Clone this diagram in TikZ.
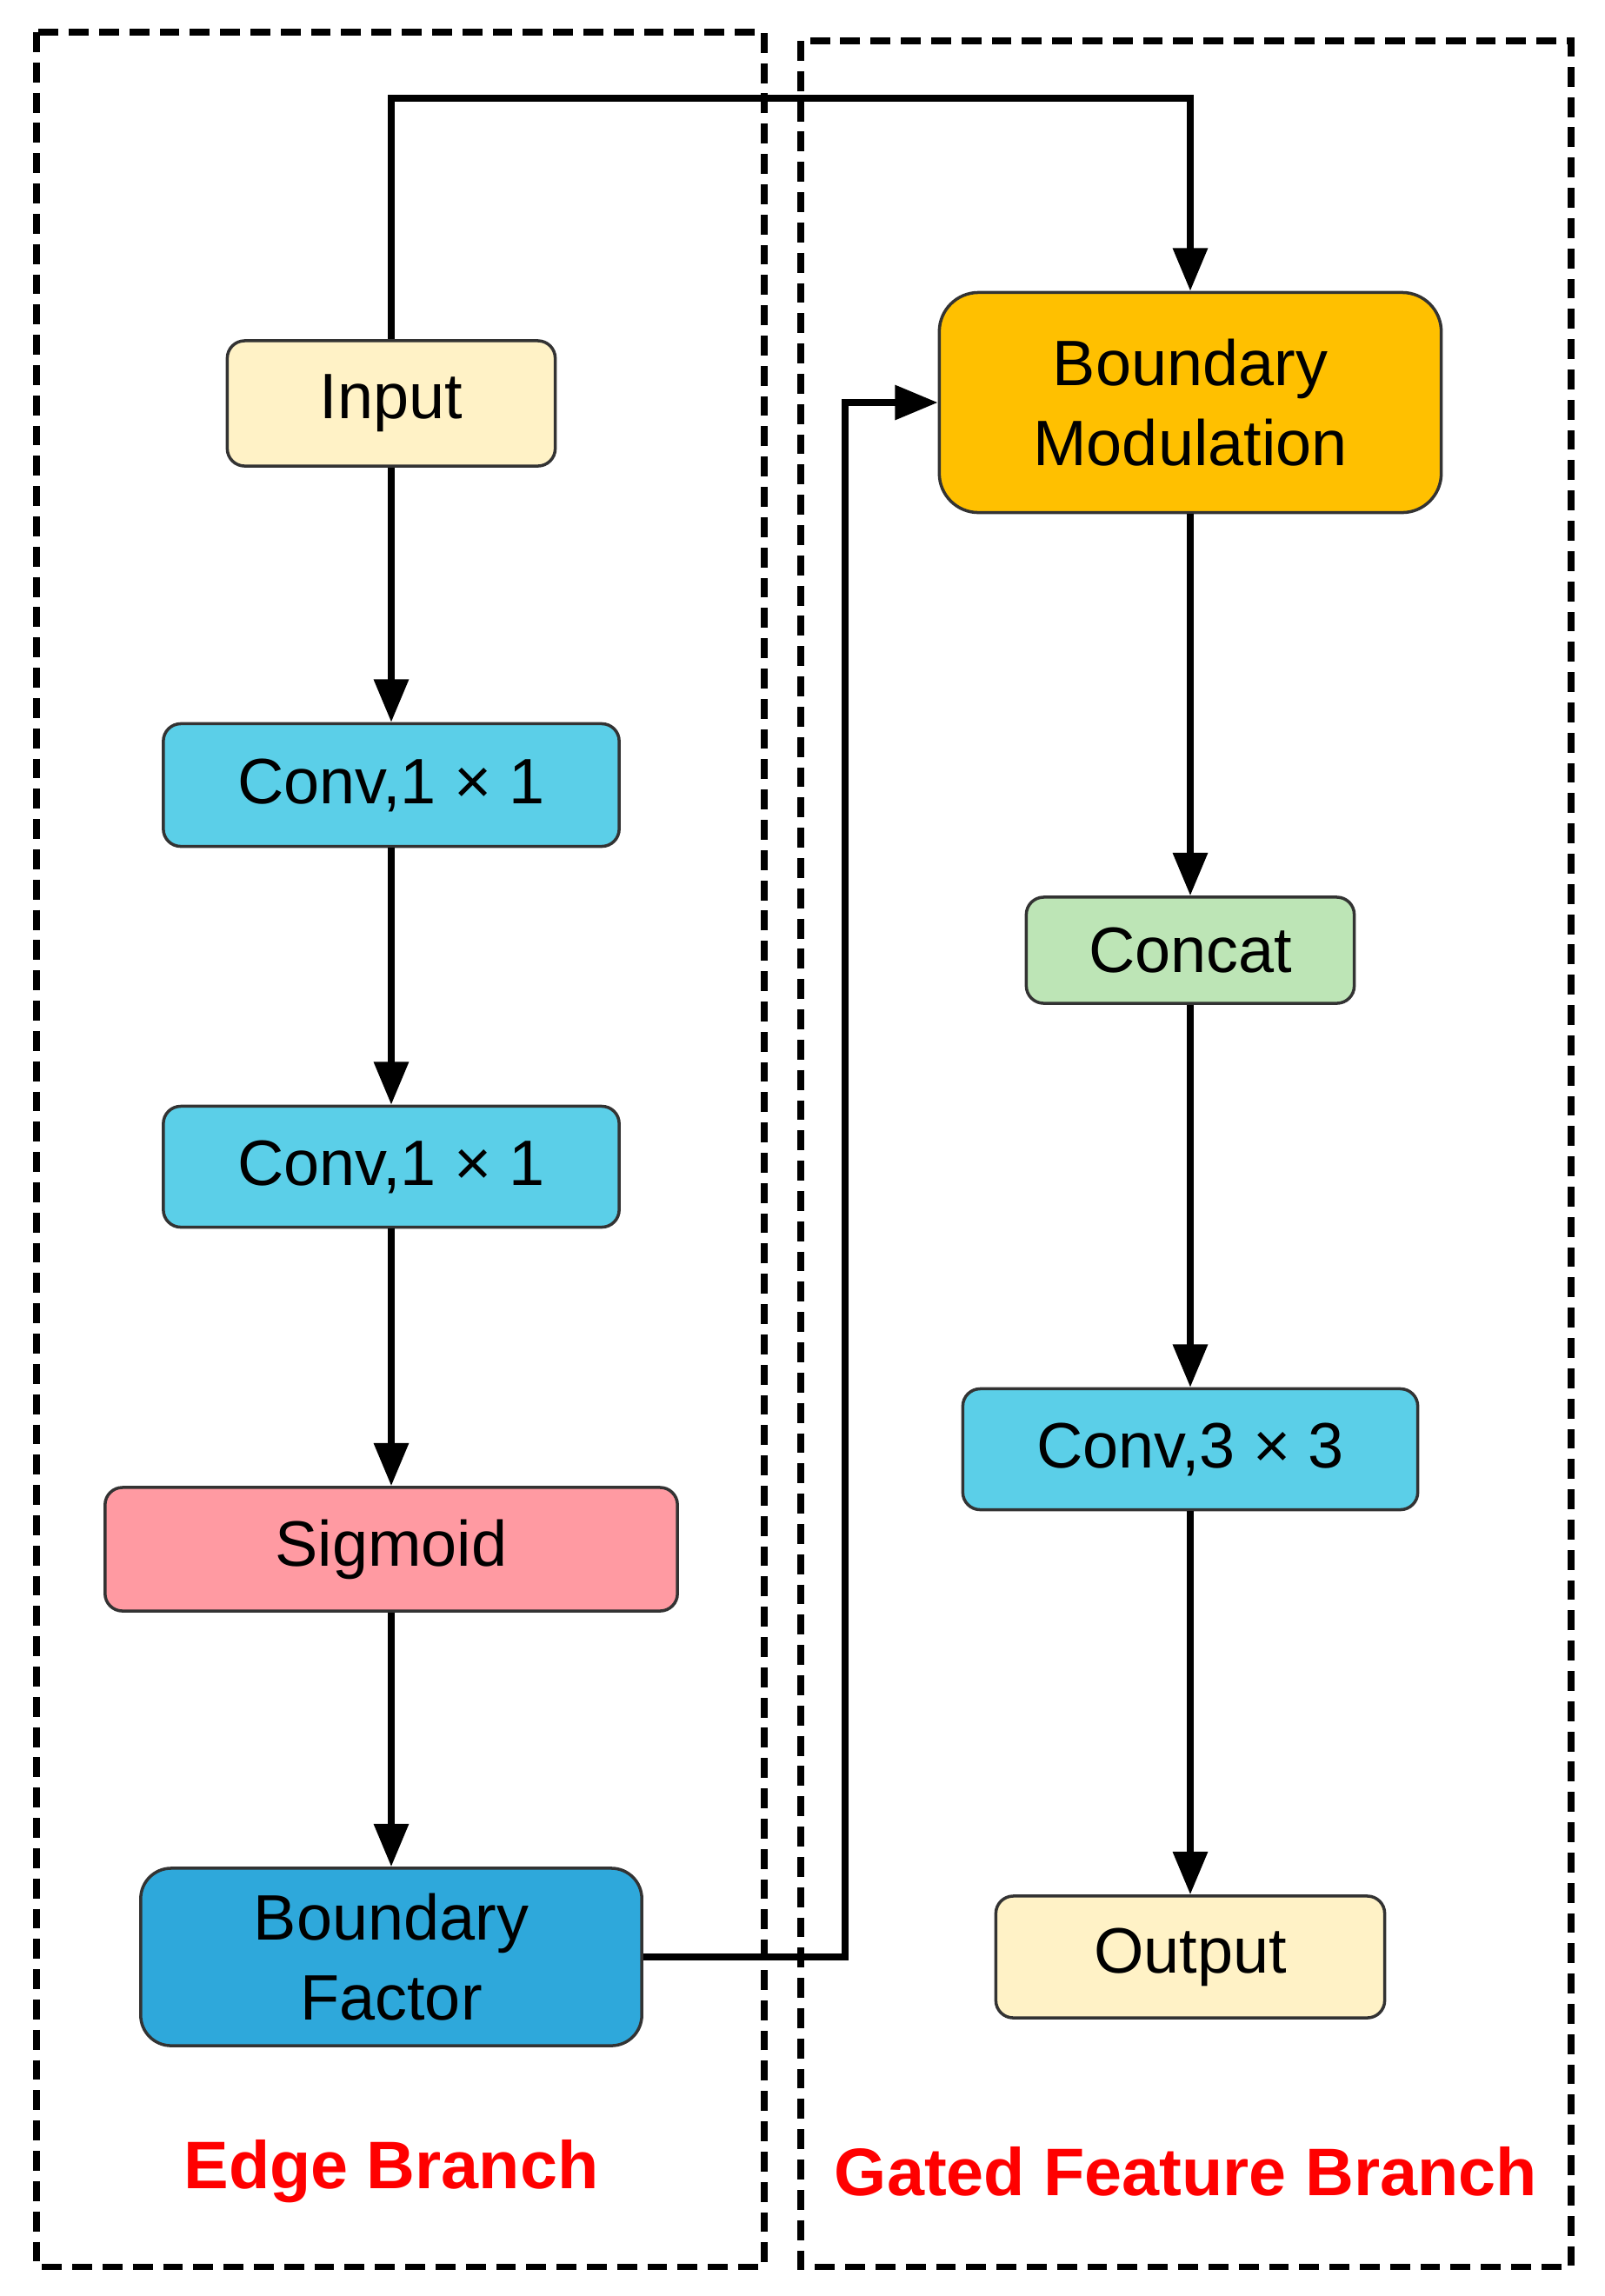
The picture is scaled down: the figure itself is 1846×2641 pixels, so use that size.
\documentclass[tikz,border=0pt]{standalone}
\usepackage{fontspec}
\setmainfont{Liberation Sans}
\usepackage{tikz}
\usetikzlibrary{arrows.meta,calc}

\definecolor{inyellow}{HTML}{FFF2C6}
\definecolor{convcyan}{HTML}{5BCFE8}
\definecolor{sigpink}{HTML}{FF9AA2}
\definecolor{bfblue}{HTML}{2EA8DB}
\definecolor{bmorange}{HTML}{FFC000}
\definecolor{catgreen}{HTML}{BDE5B6}
\definecolor{edgegray}{HTML}{333333}

\begin{document}
\begin{tikzpicture}[x=0.01cm,y=-0.01cm,
    blk/.style={draw=edgegray,line width=1pt,rounded corners=0.2cm,align=center,
        inner sep=0pt,font=\fontsize{21}{26}\selectfont},
    flow/.style={line width=2.1pt,-{Triangle[length=14pt,width=11pt]}},
    branch/.style={draw,line width=2pt,dash pattern=on 6.5pt off 3.4pt},
    branchname/.style={text=red,font=\fontsize{22}{26}\selectfont\bfseries}]
    \useasboundingbox (0,0) rectangle (1846,2641);

    % the two branches
    \draw[branch] (42,37) rectangle (879,2607);
    \draw[branch] (921,47) rectangle (1807,2607);
    \node[branchname] (edgename) at (450,2498) {Edge Branch};
    \node[branchname] (gatename) at (1364,2498) {Gated Feature Branch};

    % edge branch
    \node[blk,fill=inyellow,minimum width=3.77cm,minimum height=1.44cm] (input) at (450,464) {Input};
    \node[blk,fill=convcyan,minimum width=5.24cm,minimum height=1.41cm] (conva) at (450,903) {Conv,1 × 1};
    \node[blk,fill=convcyan,minimum width=5.24cm,minimum height=1.39cm] (convb) at (450,1342) {Conv,1 × 1};
    \node[blk,fill=sigpink,minimum width=6.58cm,minimum height=1.42cm] (sigm) at (450,1782) {Sigmoid};
    \node[blk,fill=bfblue,rounded corners=0.35cm,minimum width=5.76cm,minimum height=2.04cm] (bfac) at (450,2251) {Boundary\\ Factor};

    % gated feature branch
    \node[blk,fill=bmorange,rounded corners=0.45cm,minimum width=5.77cm,minimum height=2.53cm] (bmod) at (1369,463) {Boundary\\ Modulation};
    \node[blk,fill=catgreen,minimum width=3.77cm,minimum height=1.22cm] (concat) at (1369,1093) {Concat};
    \node[blk,fill=convcyan,minimum width=5.23cm,minimum height=1.39cm] (convc) at (1369,1667) {Conv,3 × 3};
    \node[blk,fill=inyellow,minimum width=4.47cm,minimum height=1.40cm] (output) at (1369,2251) {Output};

    \coordinate (topL) at (450,113);
    \coordinate (topR) at (1369,113);
    \coordinate (backB) at (972,2251);
    \coordinate (backT) at (972,463);

    \draw[flow] (input) -- (conva);
    \draw[flow] (conva) -- (convb);
    \draw[flow] (convb) -- (sigm);
    \draw[flow] (sigm) -- (bfac);
    \draw[flow] (input.north) -- (topL) -- (topR) -- (bmod.north);
    \draw[flow] (bfac.east) -- (backB) -- (backT) -- (bmod.west);
    \draw[flow] (bmod) -- (concat);
    \draw[flow] (concat) -- (convc);
    \draw[flow] (convc) -- (output);
\end{tikzpicture}
\end{document}
